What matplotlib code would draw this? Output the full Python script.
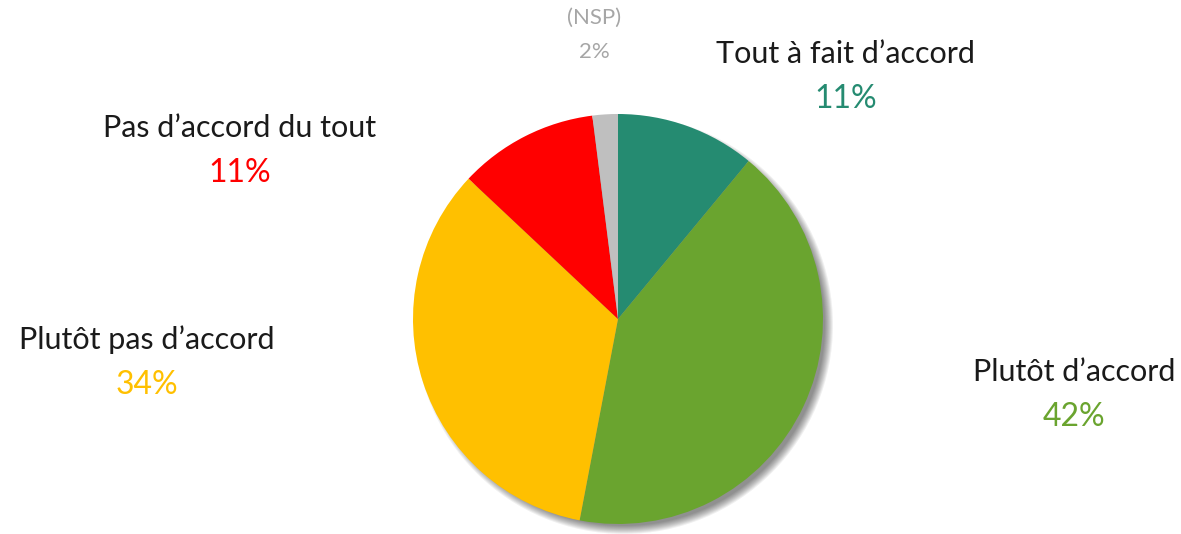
import matplotlib.pyplot as plt
from matplotlib.patches import Circle

# --- Données ---
categories = ["Tout à fait d’accord", "Plutôt d’accord", "Plutôt pas d’accord",
              "Pas d’accord du tout", "(NSP)"]
values = [11, 42, 34, 11, 2]
colors = ["#258B71", "#6AA42F", "#FFC000", "#FF0000", "#BFBFBF"]
value_colors = ["#258B71", "#6AA42F", "#FFC000", "#FF0000", "#A6A6A6"]
label_colors = ["#1A1A1A", "#1A1A1A", "#1A1A1A", "#1A1A1A", "#A6A6A6"]

# position des étiquettes (pixels depuis le haut) et taille
label_pos = [(846, 54), (1074, 372), (147, 340), (240, 128), (594, 18)]
label_size = [22, 22, 22, 22, 16]

W, H = 1181, 534
fig = plt.figure(figsize=(W / 100, H / 100), dpi=100)
ax = fig.add_axes([0, 0, 1, 1])

cx, cy, r = 618, H - 319, 205

# ombre portée (flou approximé par des cercles superposés)
for i in range(9):
    ax.add_patch(Circle((cx + 6, cy - 6), r + 4 - i, color="#000000",
                        alpha=0.06, lw=0, zorder=1))

wedges, _ = ax.pie(values, colors=colors, startangle=90, counterclock=False,
                   center=(cx, cy), radius=r, frame=True,
                   wedgeprops=dict(linewidth=0))
for w in wedges:
    w.set_zorder(2)
ax.set_xlim(0, W)
ax.set_ylim(0, H)
ax.set_aspect("equal")
ax.axis("off")

font = ["Lato", "DejaVu Sans"]
for cat, v, (x, y), fs, lc, vc in zip(categories, values, label_pos, label_size,
                                      label_colors, value_colors):
    big = fs > 20
    ax.text(x, H - y, cat, ha="center", va="center", fontsize=fs, color=lc,
            family=font, zorder=3)
    ax.text(x, H - y - (45 if big else 34), f"{v}%", ha="center", va="center",
            fontsize=fs + (1 if big else 0), color=vc, family=font, zorder=3)

fig.savefig("out.png", dpi=100)
